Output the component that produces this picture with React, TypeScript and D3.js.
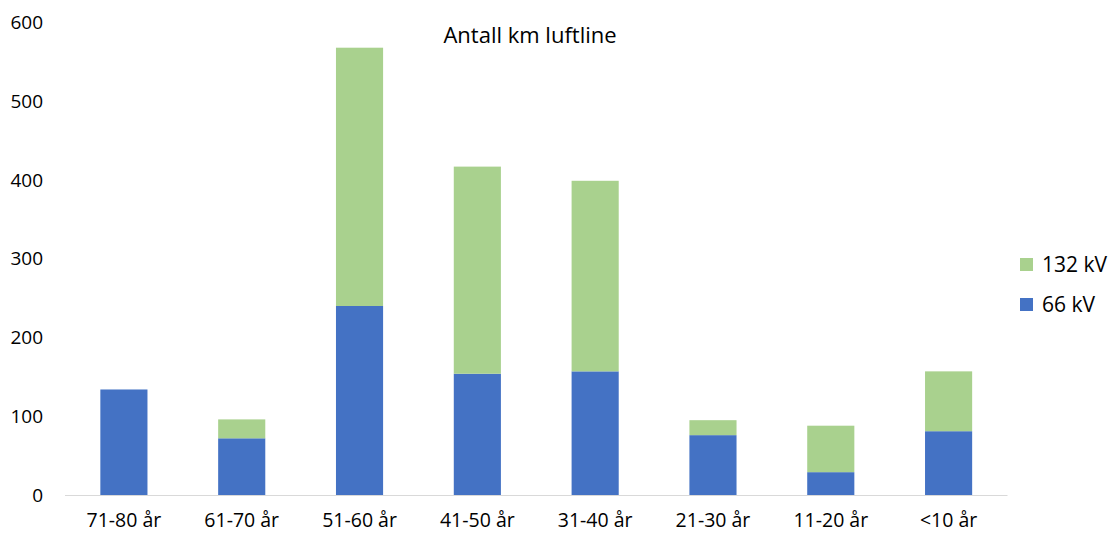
import React from "react";
import * as d3 from "d3";

const categories = ["71-80 år", "61-70 år", "51-60 år", "41-50 år", "31-40 år", "21-30 år", "11-20 år", "<10 år"];
const kv66 = [134, 72, 240, 154, 157, 76, 29, 81];
const kv132 = [0, 24, 328, 263, 242, 19, 59, 76];
const yTicks = [0, 100, 200, 300, 400, 500, 600];
const seriesNames = ["66 kV", "132 kV"];
const colors = ["#4472C4", "#A9D18E"];

export default function App() {
  const W = 1115, H = 533;
  const x = d3.scaleBand<string>().domain(categories).range([65, 1007.5]).paddingInner(0.6).paddingOuter(0.3);
  const y = d3.scaleLinear().domain([0, 600]).range([495, 22.5]);
  const rows = categories.map((c, i) => ({ c, a: kv66[i], b: kv132[i] }));
  const stack = d3.stack<any>().keys(["a", "b"])(rows);
  const font = "'Open Sans', sans-serif";
  return (
    <svg width={W} height={H} style={{ position: "absolute", left: 0, top: 0, background: "#fff" }} fontFamily={font}>
      <text x={530} y={35} dy="0.35em" textAnchor="middle" fontSize={22} fill="#000">Antall km luftline</text>
      {yTicks.map(t => (
        <text key={t} x={43} y={y(t)} dy="0.35em" textAnchor="end" fontSize={19} fill="#000">{t}</text>
      ))}
      {stack.map((s, si) => s.map((d, i) => (
        d[1] - d[0] > 0 ? (
          <rect key={si + "-" + i} x={x(categories[i])} width={x.bandwidth()} y={y(d[1])} height={y(d[0]) - y(d[1])} fill={colors[si]} />
        ) : null
      )))}
      <line x1={65} x2={1007.5} y1={495.5} y2={495.5} stroke="#d9d9d9" strokeWidth={1} />
      {categories.map(c => (
        <text key={c} x={(x(c) as number) + x.bandwidth() / 2} y={527} textAnchor="middle" fontSize={19.5} fill="#000">{c}</text>
      ))}
      {[1, 0].map((si, k) => (
        <g key={si} transform={`translate(1020, ${258 + k * 40})`}>
          <rect x={0} y={0} width={13} height={13} fill={colors[si]} />
          <text x={22} y={7} dy="0.35em" fontSize={21} fill="#000">{seriesNames[si]}</text>
        </g>
      ))}
    </svg>
  );
}
